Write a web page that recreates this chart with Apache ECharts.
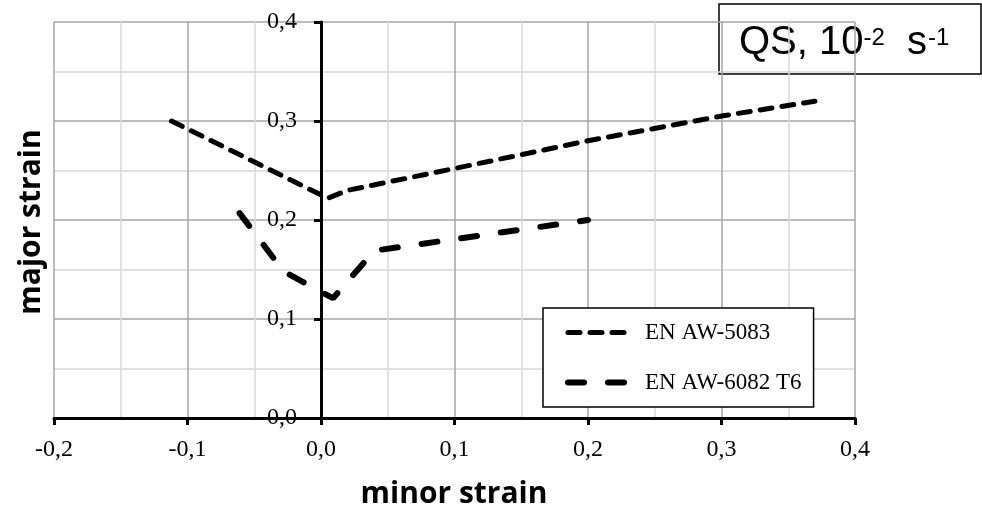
<!DOCTYPE html>
<html>
<head>
<meta charset="utf-8">
<script src="https://cdn.jsdelivr.net/npm/echarts@6/dist/echarts.min.js"></script>
<style>
  html, body { margin: 0; padding: 0; background: #fff; }
  #chart { width: 982px; height: 511px; }
</style>
</head>
<body>
<div id="chart"></div>
<script>
// Forming limit curves
const seriesNames = ["EN AW-5083", "EN AW-6082 T6"];
const minor5083 = [-0.112, 0.005, 0.02, 0.1, 0.2, 0.3, 0.37];
const major5083 = [0.300, 0.222, 0.230, 0.252, 0.280, 0.305, 0.320];
const minor6082 = [-0.061, -0.028, 0.009, 0.04, 0.2];
const major6082 = [0.207, 0.148, 0.121, 0.169, 0.200];

const xTicks = { min: -0.2, max: 0.4, step: 0.1 };
const yTicks = { min: 0.0, max: 0.4, step: 0.1 };

const SERIF = "'Liberation Serif', 'Times New Roman', serif";
const SANS = "'Liberation Sans', Arial, sans-serif";
const TITLE = "'Open Sans', 'DejaVu Sans', sans-serif";

const GRID = { left: 54, right: 127, top: 22, bottom: 93 };
const PLOT_W = 982 - GRID.left - GRID.right;

// short dashes / long dashes, same in the plot and in the legend
const LINE_5083 = { color: "#000", width: 5, type: [12, 10], cap: "round" };
const LINE_6082 = { color: "#000", width: 6, type: [16, 24], cap: "round" };

function zip(xs, ys) {
  return xs.map((x, i) => [x, ys[i]]);
}

function fmt(v) {
  return Number(v).toFixed(1).replace(".", ",");
}

const chart = echarts.init(document.getElementById("chart"), null, { renderer: "canvas" });

const axisCommon = {
  type: "value",
  axisLine: { onZero: false, lineStyle: { color: "#000", width: 3 } },
  axisTick: { show: true, length: 7, lineStyle: { color: "#000", width: 3 } },
  axisLabel: { color: "#000", fontFamily: SERIF, fontSize: 24, formatter: fmt },
  splitLine: { show: true, lineStyle: { color: "#a6a6a6", width: 1.5 } },
  minorTick: { show: false, splitNumber: 2 },
  minorSplitLine: { show: true, lineStyle: { color: "#d9d9d9", width: 1.5 } },
};

// y axis sits on minor strain = 0, so shift it right from the grid edge
const yAxisOffset = -PLOT_W * (0 - xTicks.min) / (xTicks.max - xTicks.min);

chart.setOption({
  animation: false,
  backgroundColor: "#fff",
  grid: { ...GRID, containLabel: false },
  xAxis: {
    ...axisCommon,
    min: xTicks.min,
    max: xTicks.max,
    interval: xTicks.step,
    axisLabel: { ...axisCommon.axisLabel, margin: 20 },
  },
  yAxis: {
    ...axisCommon,
    min: yTicks.min,
    max: yTicks.max,
    interval: yTicks.step,
    offset: yAxisOffset,
    axisLabel: { ...axisCommon.axisLabel, margin: 24 },
  },
  legend: {
    orient: "vertical",
    left: 543,
    top: 308,
    padding: [13, 12, 13, 22],
    itemWidth: 62,
    itemHeight: 20,
    itemGap: 27,
    backgroundColor: "#fff",
    borderColor: "#000",
    borderWidth: 1.5,
    data: [
      { name: seriesNames[0], lineStyle: LINE_5083 },
      { name: seriesNames[1], lineStyle: LINE_6082 },
    ],
    itemStyle: { opacity: 0, borderWidth: 0 },
    textStyle: { color: "#000", fontFamily: SERIF, fontSize: 23, padding: [0, 0, 0, 10] },
  },
  series: [
    {
      name: seriesNames[0],
      type: "line",
      data: zip(minor5083, major5083),
      symbol: "none",
      itemStyle: { color: "#000" },
      lineStyle: LINE_5083,
      z: 5,
    },
    {
      name: seriesNames[1],
      type: "line",
      data: zip(minor6082, major6082),
      symbol: "none",
      itemStyle: { color: "#000" },
      lineStyle: LINE_6082,
      z: 5,
    },
  ],
  graphic: [
    {
      type: "text",
      x: 454,
      y: 494,
      style: {
        text: "minor strain",
        fontFamily: TITLE,
        fontWeight: "bold",
        fontSize: 30,
        fill: "#000",
        align: "center",
        verticalAlign: "middle",
      },
    },
    {
      type: "text",
      x: 31,
      y: 222,
      rotation: Math.PI / 2,
      style: {
        text: "major strain",
        fontFamily: TITLE,
        fontWeight: "bold",
        fontSize: 30,
        fill: "#000",
        align: "center",
        verticalAlign: "middle",
      },
    },
    {
      type: "group",
      z: 100,
      children: [
        {
          type: "rect",
          shape: { x: 719, y: 4, width: 262, height: 70 },
          style: { fill: "#fff", stroke: "#000", lineWidth: 1.5 },
        },
        {
          type: "text",
          x: 739,
          y: 43,
          style: {
            text: "QS, 10{supA|-2} s{supB|-1}",
            fontFamily: SANS,
            fontSize: 40,
            fill: "#000",
            verticalAlign: "middle",
            rich: {
              supA: {
                fontFamily: SANS,
                fontSize: 24,
                verticalAlign: "top",
                padding: [3, 11, 0, 0],
                fill: "#000",
              },
              supB: {
                fontFamily: SANS,
                fontSize: 24,
                verticalAlign: "top",
                padding: [3, 0, 0, 1],
                fill: "#000",
              },
            },
          },
        },
      ],
    },
  ],
});
</script>
</body>
</html>
